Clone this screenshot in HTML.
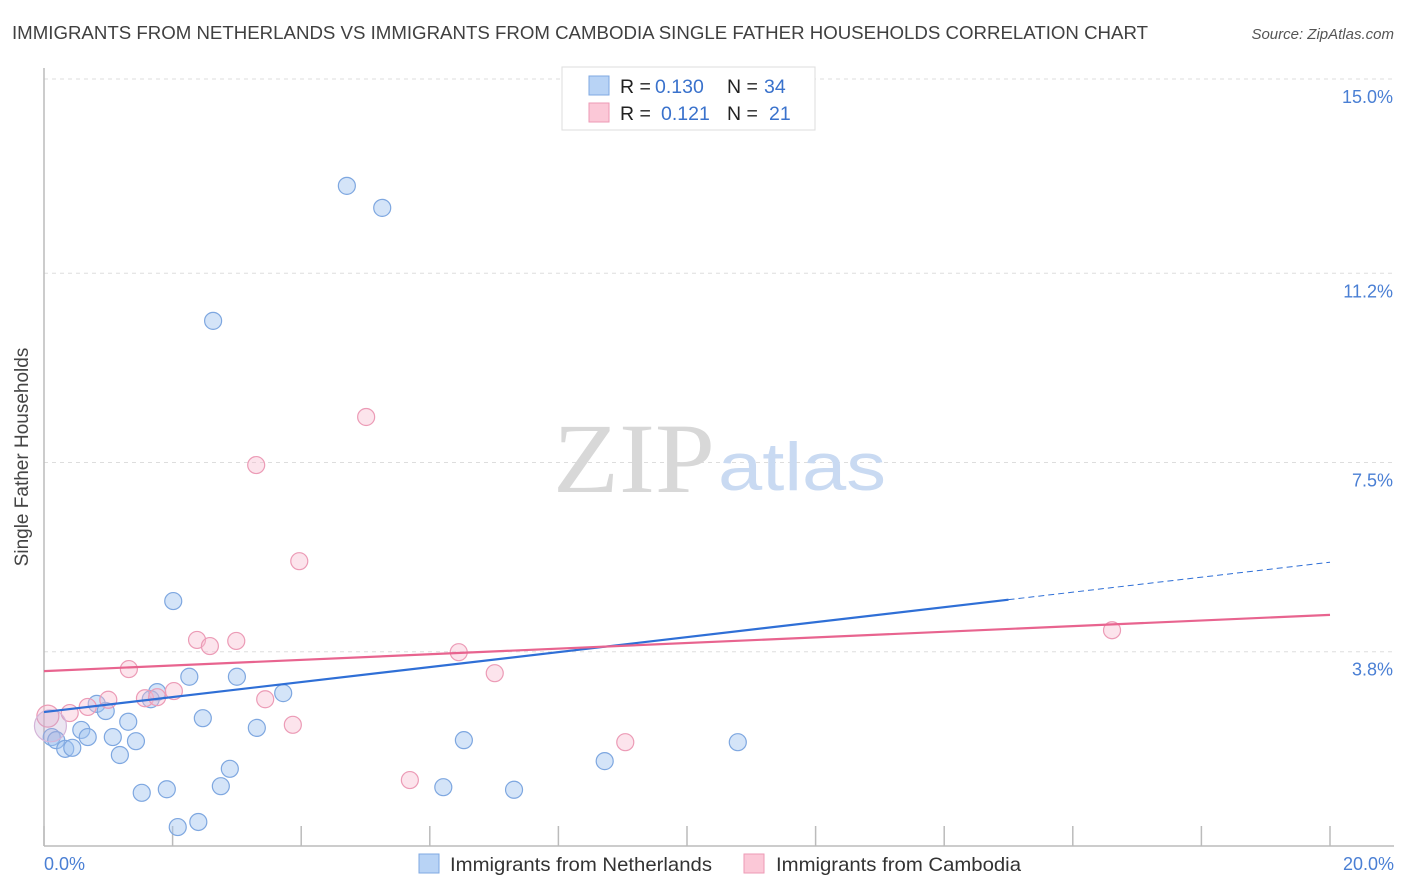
<!DOCTYPE html>
<html><head><meta charset="utf-8"><style>
body{margin:0;background:#fff;font-family:"Liberation Sans",sans-serif;}
svg{display:block}
</style></head><body>
<svg width="1406" height="892" xmlns="http://www.w3.org/2000/svg">
<text x="12" y="39" font-size="18" fill="#404040" textLength="1136" lengthAdjust="spacingAndGlyphs">IMMIGRANTS FROM NETHERLANDS VS IMMIGRANTS FROM CAMBODIA SINGLE FATHER HOUSEHOLDS CORRELATION CHART</text>
<text x="1394" y="39" font-size="15" fill="#555" font-style="italic" text-anchor="end">Source: ZipAtlas.com</text>
<g id="grid"></g>
<line x1="44" y1="68" x2="44" y2="846" stroke="#bbb" stroke-width="1.5"/>
<line x1="44" y1="846" x2="1394" y2="846" stroke="#bbb" stroke-width="1.5"/>
<g id="xticks"></g>
<text x="553" y="492" font-size="100" fill="#d8d8d8" font-family="Liberation Serif,serif" textLength="162" lengthAdjust="spacingAndGlyphs">ZIP</text>
<text x="718" y="490" font-size="68" fill="#c9daf2" textLength="168" lengthAdjust="spacingAndGlyphs">atlas</text>
<g id="pts"></g>
<g id="lines"></g>
<text x="28" y="457" font-size="19" fill="#444" text-anchor="middle" transform="rotate(-90 28 457)">Single Father Households</text>
<text x="44" y="870" font-size="18" fill="#4a7fd4">0.0%</text>
<text x="1394" y="870" font-size="18" fill="#4a7fd4" text-anchor="end">20.0%</text>
<g>
<rect x="562" y="67" width="253" height="63" fill="#fff" stroke="#ddd"/>
<rect x="589" y="76" width="20" height="19" fill="#b8d3f5" stroke="#7fa8e2"/>
<rect x="589" y="103" width="20" height="19" fill="#fbc8d7" stroke="#ee9ab6"/>
<text y="93" font-size="19.5" fill="#222"><tspan x="620">R = </tspan><tspan x="655" fill="#3a72cc">0.130</tspan><tspan x="727">N = </tspan><tspan x="764" fill="#3a72cc">34</tspan></text>
<text y="120" font-size="19.5" fill="#222"><tspan x="620">R = </tspan><tspan x="661" fill="#3a72cc">0.121</tspan><tspan x="727">N = </tspan><tspan x="769" fill="#3a72cc">21</tspan></text>
</g>
<g>
<rect x="419" y="854" width="20" height="19" fill="#b8d3f5" stroke="#7fa8e2"/>
<text x="450" y="871" font-size="19.5" fill="#333" textLength="262" lengthAdjust="spacingAndGlyphs">Immigrants from Netherlands</text>
<rect x="744" y="854" width="20" height="19" fill="#fbc8d7" stroke="#ee9ab6"/>
<text x="776" y="871" font-size="19.5" fill="#333" textLength="245" lengthAdjust="spacingAndGlyphs">Immigrants from Cambodia</text>
</g>
</svg>
<script>
const yTicks=[3.8,7.5,11.2,15.0];
const yTickLabels=["3.8%","7.5%","11.2%","15.0%"];
const xTicks=[0,2,4,6,8,10,12,14,16,18,20];
const netherlandsX=[4.71,5.26,2.63,2.01,2.26,3.00,1.76,3.72,0.82,0.96,1.66,1.31,2.47,3.31,0.58,0.68,1.07,1.43,0.12,0.19,0.33,0.44,1.18,2.89,1.91,1.52,2.75,2.08,2.40,6.53,6.21,7.31,8.72,10.79];
const netherlandsY=[12.91,12.48,10.27,4.79,3.31,3.31,3.01,2.99,2.78,2.64,2.87,2.43,2.50,2.31,2.27,2.13,2.13,2.05,2.13,2.07,1.90,1.92,1.78,1.51,1.11,1.04,1.17,0.37,0.47,2.07,1.15,1.10,1.66,2.03];
const cambodiaX=[5.01,3.30,3.97,2.38,2.99,2.58,1.32,16.61,6.45,7.01,2.02,1.00,1.57,1.76,0.68,0.40,0.06,3.44,3.87,5.69,9.04];
const cambodiaY=[8.39,7.45,5.57,4.03,4.01,3.91,3.46,4.22,3.79,3.38,3.03,2.86,2.89,2.91,2.72,2.60,2.54,2.87,2.37,1.29,2.03];
const netherlandsTrend=[2.62,5.55];
const cambodiaTrend=[3.42,4.52];
const netherlandsSolidEnd=15.0;
const NS="http://www.w3.org/2000/svg";
const X=v=>44+v*(1286/20);
const Y=v=>846-v*(191.75/3.75);
function mk(tag,attrs,parent){const e=document.createElementNS(NS,tag);for(const k in attrs)e.setAttribute(k,attrs[k]);parent.appendChild(e);return e;}
const grid=document.getElementById('grid');
yTicks.forEach((t,i)=>{
 const l=mk('line',{x1:44,x2:1394,y1:Y(t),y2:Y(t),stroke:'#ddd','stroke-dasharray':'4,4'},grid);
 
 
 const tx=mk('text',{x:1393,y:Y(t)+24,'font-size':18,fill:'#4a7fd4','text-anchor':'end'},grid);
 tx.textContent=yTickLabels[i];
 
 
});
const xt=document.getElementById('xticks');
xTicks.forEach(t=>{
 const l=mk('line',{x1:X(t),x2:X(t),y1:826,y2:846,stroke:'#bbb','stroke-width':1.5},xt);
 
 
});
const pts=document.getElementById('pts');
function dot(x,y,r,fill,stroke,name){
 const c=mk('circle',{cx:X(x),cy:Y(y),r:r,fill:fill,stroke:stroke,'stroke-width':1.2},pts);
 
 
}
netherlandsX.forEach((x,i)=>dot(x,netherlandsY[i],8.5,'rgba(160,195,240,0.45)','#7ea7e0','netherlands-point'));
cambodiaX.forEach((x,i)=>dot(x,cambodiaY[i],i==16?11:8.5,'rgba(248,188,208,0.4)','#ec9bb6','cambodia-point'));
dot(0.1,2.35,16,'rgba(190,170,210,0.3)','#d4b4d8','overlap-point-large');
const lines=document.getElementById('lines');
const bT=x=>netherlandsTrend[0]+(netherlandsTrend[1]-netherlandsTrend[0])*x/20;
const cT=x=>cambodiaTrend[0]+(cambodiaTrend[1]-cambodiaTrend[0])*x/20;
let l1=mk('line',{x1:X(0),y1:Y(bT(0)),x2:X(netherlandsSolidEnd),y2:Y(bT(netherlandsSolidEnd)),stroke:'#2f6fd6','stroke-width':2.2},lines);


let l2=mk('line',{x1:X(netherlandsSolidEnd),y1:Y(bT(netherlandsSolidEnd)),x2:X(20),y2:Y(bT(20)),stroke:'#2f6fd6','stroke-width':1,'stroke-dasharray':'6,4'},lines);


let l3=mk('line',{x1:X(0),y1:Y(cT(0)),x2:X(20),y2:Y(cT(20)),stroke:'#e8648f','stroke-width':2.2},lines);


</script>
</body></html>
